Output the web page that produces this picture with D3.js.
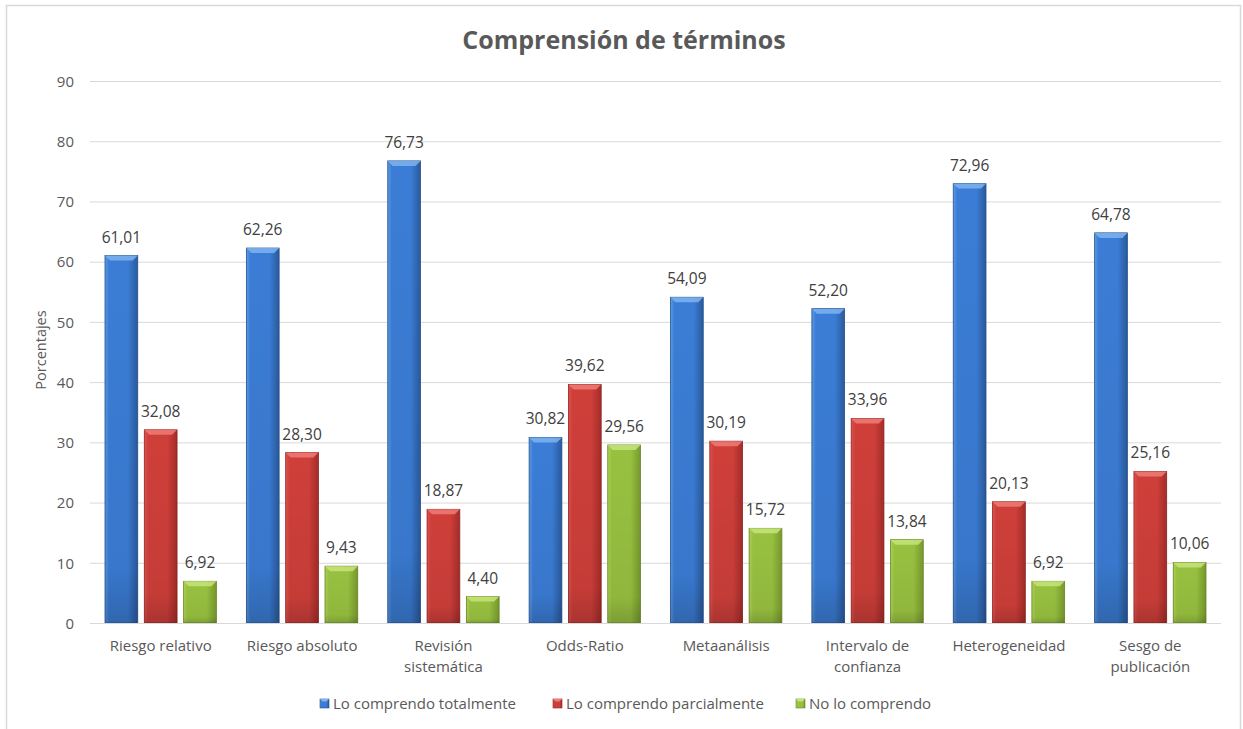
<!DOCTYPE html>
<html><head><meta charset="utf-8">
<script src="https://cdn.jsdelivr.net/npm/d3@7"></script>
<style>
html,body{margin:0;padding:0;background:#fff;}
svg text{font-family:"Open Sans",Lato,sans-serif;}
</style></head>
<body>
<svg id="chart" width="1243" height="729"></svg>
<script>
const categories = ["Riesgo relativo","Riesgo absoluto","Revisión sistemática","Odds-Ratio","Metaanálisis","Intervalo de confianza","Heterogeneidad","Sesgo de publicación"];
const categoryLines = [["Riesgo relativo"],["Riesgo absoluto"],["Revisión","sistemática"],["Odds-Ratio"],["Metaanálisis"],["Intervalo de","confianza"],["Heterogeneidad"],["Sesgo de","publicación"]];
const seriesNames = ["Lo comprendo totalmente","Lo comprendo parcialmente","No lo comprendo"];
const totalmente = [61.01,62.26,76.73,30.82,54.09,52.20,72.96,64.78];
const parcialmente = [32.08,28.30,18.87,39.62,30.19,33.96,20.13,25.16];
const noComprendo = [6.92,9.43,4.40,29.56,15.72,13.84,6.92,10.06];
const yTicks = [0,10,20,30,40,50,60,70,80,90];
const seriesValues = [totalmente, parcialmente, noComprendo];

const palettes = [
  {light:"#5b9be6", base:"#3b7dd6", dark:"#2a5a9c", edge:"#24508c", top:"#7fb3f0"},
  {light:"#e0524c", base:"#cf3f3a", dark:"#a52c29", edge:"#8e2422", top:"#ef7c77"},
  {light:"#aed252", base:"#98c140", dark:"#77992c", edge:"#678526", top:"#c6e47a"}
];

const svg = d3.select("#chart");
const pLeft = 90, pRight = 1221, pTop = 81, pBottom = 623;

// chart border
svg.append("rect").attr("x",6.5).attr("y",5.5).attr("width",1234).attr("height",740)
  .attr("fill","#fff").attr("stroke","#d9d9d9").attr("stroke-width",1.5);

const defs = svg.append("defs");
palettes.forEach((p,i)=>{
  const g = defs.append("linearGradient").attr("id","g"+i).attr("x1","0").attr("x2","1").attr("y1","0").attr("y2","0");
  g.append("stop").attr("offset","0%").attr("stop-color",p.light);
  g.append("stop").attr("offset","12%").attr("stop-color",p.base);
  g.append("stop").attr("offset","70%").attr("stop-color",p.base);
  g.append("stop").attr("offset","100%").attr("stop-color",p.dark);
  const v = defs.append("linearGradient").attr("id","v"+i).attr("x1","0").attr("x2","0").attr("y1","0").attr("y2","1");
  v.append("stop").attr("offset","0%").attr("stop-color","#000").attr("stop-opacity",0);
  v.append("stop").attr("offset","85%").attr("stop-color","#000").attr("stop-opacity",0.05);
  v.append("stop").attr("offset","100%").attr("stop-color","#000").attr("stop-opacity",0.18);
});

const x0 = d3.scaleBand().domain(categories).range([pLeft,pRight]).paddingInner(0).paddingOuter(0);
const x1 = d3.scaleBand().domain(seriesNames).range([15, x0.bandwidth()-15]).paddingInner(0.167).paddingOuter(0);
const y = d3.scaleLinear().domain([0,90]).range([pBottom,pTop]);

// gridlines
const grid = svg.append("g").attr("transform",`translate(${pLeft},0)`)
  .call(d3.axisLeft(y).tickValues(yTicks).tickSize(-(pRight-pLeft)).tickFormat(""));
grid.select(".domain").remove();
grid.selectAll("line").attr("stroke","#d9d9d9").attr("stroke-width",1);

// y tick labels
const yAxis = svg.append("g").attr("transform",`translate(${pLeft-16},0)`)
  .call(d3.axisLeft(y).tickValues(yTicks).tickSize(0).tickPadding(0));
yAxis.select(".domain").remove();
yAxis.selectAll("text").attr("fill","#595959").style("font-size","15px").style("font-family","'Open Sans',sans-serif").attr("dy","0.35em");

// y axis title
svg.append("text").attr("transform",`translate(46,${(pTop+pBottom)/2-2}) rotate(-90)`)
  .attr("text-anchor","middle").attr("fill","#595959").style("font-size","14.5px").text("Porcentajes");

// bars
const fmt = d3.formatLocale({decimal:",",thousands:".",grouping:[3],currency:["",""]}).format(".2f");
const groups = svg.append("g").selectAll("g").data(categories).join("g")
  .attr("transform",d=>`translate(${x0(d)},0)`);

seriesNames.forEach((s,si)=>{
  const p = palettes[si];
  const bw = x1.bandwidth();
  groups.append("rect")
    .attr("x",x1(s)).attr("width",bw)
    .attr("y",(d,i)=>y(seriesValues[si][i]))
    .attr("height",(d,i)=>y(0)-y(seriesValues[si][i]))
    .attr("fill",`url(#g${si})`).attr("stroke",p.edge).attr("stroke-width",0.8);
  groups.append("rect")
    .attr("x",x1(s)).attr("width",bw)
    .attr("y",(d,i)=>y(seriesValues[si][i]))
    .attr("height",(d,i)=>y(0)-y(seriesValues[si][i]))
    .attr("fill",`url(#v${si})`);
  groups.append("path")
    .attr("d",(d,i)=>{
      const yt = y(seriesValues[si][i]); const xl = x1(s), xr = x1(s)+bw;
      return `M${xl},${yt}L${xr},${yt}L${xr-5},${yt+5}L${xl+5},${yt+5}Z`;
    })
    .attr("fill",p.top).attr("opacity",0.85);
  groups.append("text")
    .attr("x",x1(s)+bw/2)
    .attr("y",(d,i)=>y(seriesValues[si][i])-13)
    .attr("text-anchor","middle").attr("fill","#404040").style("font-size","15.5px")
    .text((d,i)=>fmt(seriesValues[si][i]));
});

// x axis baseline
svg.append("line").attr("x1",pLeft).attr("x2",pRight).attr("y1",y(0)+0.5).attr("y2",y(0)+0.5)
  .attr("stroke","#d9d9d9").attr("stroke-width",1);

// category labels
categories.forEach((c,i)=>{
  const t = svg.append("text").attr("x",x0(c)+x0.bandwidth()/2).attr("y",651)
    .attr("text-anchor","middle").attr("fill","#595959").style("font-size","15px");
  categoryLines[i].forEach((ln,li)=>{
    t.append("tspan").attr("x",x0(c)+x0.bandwidth()/2).attr("dy",li===0?0:21).text(ln);
  });
});

// title
svg.append("text").attr("x",624).attr("y",49).attr("text-anchor","middle")
  .attr("fill","#595959").style("font-size","25px").style("font-weight","bold")
  .text("Comprensión de términos");

// legend
const legendX = [320, 553, 796];
seriesNames.forEach((s,si)=>{
  const g = svg.append("g").attr("transform",`translate(${legendX[si]},699)`);
  g.append("rect").attr("width",9).attr("height",9).attr("fill",`url(#g${si})`).attr("stroke",palettes[si].edge).attr("stroke-width",0.6);
  g.append("path").attr("d","M0,0L9,0L6.5,2.5L2.5,2.5Z").attr("fill",palettes[si].top);
  g.append("text").attr("x",13).attr("y",4.5).attr("dy","0.35em").attr("fill","#595959").style("font-size","15px").text(s);
});
</script>
</body></html>
